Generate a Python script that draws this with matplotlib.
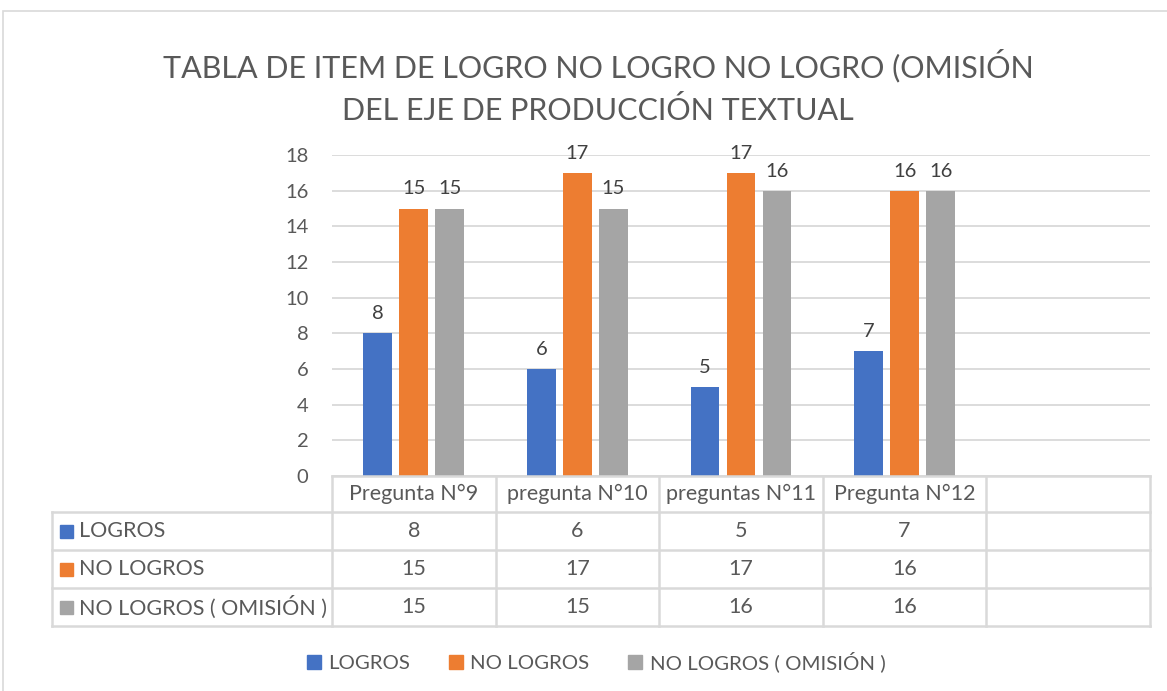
import numpy as np
import matplotlib.pyplot as plt
from matplotlib.transforms import blended_transform_factory
from matplotlib.lines import Line2D
from matplotlib.patches import Rectangle

plt.rcParams['font.family'] = ['Lato', 'DejaVu Sans']

preguntas = ["Pregunta N°9", "pregunta N°10", "preguntas N°11", "Pregunta N°12", ""]
series = ["LOGROS", "NO LOGROS", "NO LOGROS ( OMISIÓN )"]
logros = [8, 6, 5, 7]
no_logros = [15, 17, 17, 16]
omision = [15, 15, 16, 16]
colores = ["#4472C4", "#ED7D31", "#A5A5A5"]

W, H = 1167, 691
texto = "#595959"
linea = "#D9D9D9"

fig = plt.figure(figsize=(W / 100, H / 100), dpi=100)

def fy(py):
    # pixel desde arriba -> fraccion de figura
    return 1 - py / H

def fx(px):
    return px / W

# marco exterior
fig.add_artist(Rectangle((fx(3), fy(700)), 1.2, fy(11) - fy(700), transform=fig.transFigure,
                         fill=False, edgecolor="#D9D9D9", lw=1.2))

ax = fig.add_axes([fx(332), fy(476), fx(1150) - fx(332), fy(155) - fy(476)])
x = np.arange(len(logros))
datos = [logros, no_logros, omision]
ancho = 0.175
desp = [-0.22, 0, 0.22]
for i, vals in enumerate(datos):
    barras = ax.bar(x + desp[i], vals, ancho, color=colores[i], zorder=3)
    ax.bar_label(barras, padding=8, fontsize=14.5, color="#404040")

ax.set_xlim(-0.5, len(preguntas) - 0.5)
ax.set_ylim(0, 18)
ax.set_yticks(range(0, 19, 2))
ax.tick_params(axis="y", length=0, labelsize=14.5, labelcolor=texto, pad=17)
ax.set_xticks([])
ax.grid(axis="y", color=linea, lw=1.3, zorder=0)
for s in ax.spines.values():
    s.set_visible(False)

ax.text(fx(598), fy(87), "TABLA DE ITEM DE LOGRO NO LOGRO NO LOGRO (OMISIÓN\nDEL EJE DE PRODUCCIÓN TEXTUAL",
        transform=fig.transFigure, ha="center", va="center", fontsize=22, color=texto,
        linespacing=1.55)

# tabla de datos
tr = blended_transform_factory(ax.transData, fig.transFigure)
filas_y = [476, 512, 550, 588, 626]
n = len(preguntas)
# lineas horizontales
fig.add_artist(Line2D([-0.5, n - 0.5], [fy(476)] * 2, transform=tr, color=linea, lw=1.8))
for yy in filas_y[1:]:
    fig.add_artist(Line2D([fx(52), fx(1150)], [fy(yy)] * 2, transform=fig.transFigure, color=linea, lw=1.8))
# lineas verticales
for k in range(n + 1):
    fig.add_artist(Line2D([k - 0.5] * 2, [fy(476), fy(626)], transform=tr, color=linea, lw=1.8))
fig.add_artist(Line2D([fx(52)] * 2, [fy(512), fy(626)], transform=fig.transFigure, color=linea, lw=1.8))

for k, p in enumerate(preguntas):
    fig.text(k, fy(494), p, transform=tr, ha="center", va="center", fontsize=15.5, color=texto)

for i, (nombre, vals) in enumerate(zip(series, datos)):
    yc = (filas_y[i + 1] + filas_y[i + 2]) / 2
    fig.add_artist(Rectangle((fx(60), fy(yc + 6.5)), fx(13), 13 / H, transform=fig.transFigure,
                             color=colores[i]))
    fig.text(fx(79), fy(yc), nombre, ha="left", va="center", fontsize=15.5, color=texto)
    for k, v in enumerate(vals):
        fig.text(k, fy(yc), str(v), transform=tr, ha="center", va="center", fontsize=15.5, color=texto)

# leyenda
manejadores = [Line2D([], [], marker="s", ls="", color=c, markersize=10) for c in colores]
fig.legend(manejadores, series, loc="center", bbox_to_anchor=(fx(596), fy(662)), ncol=3,
           frameon=False, fontsize=14.7, labelcolor=texto, handlelength=0.7,
           handletextpad=0.35, columnspacing=1.9)

fig.savefig("out.png", dpi=100)
